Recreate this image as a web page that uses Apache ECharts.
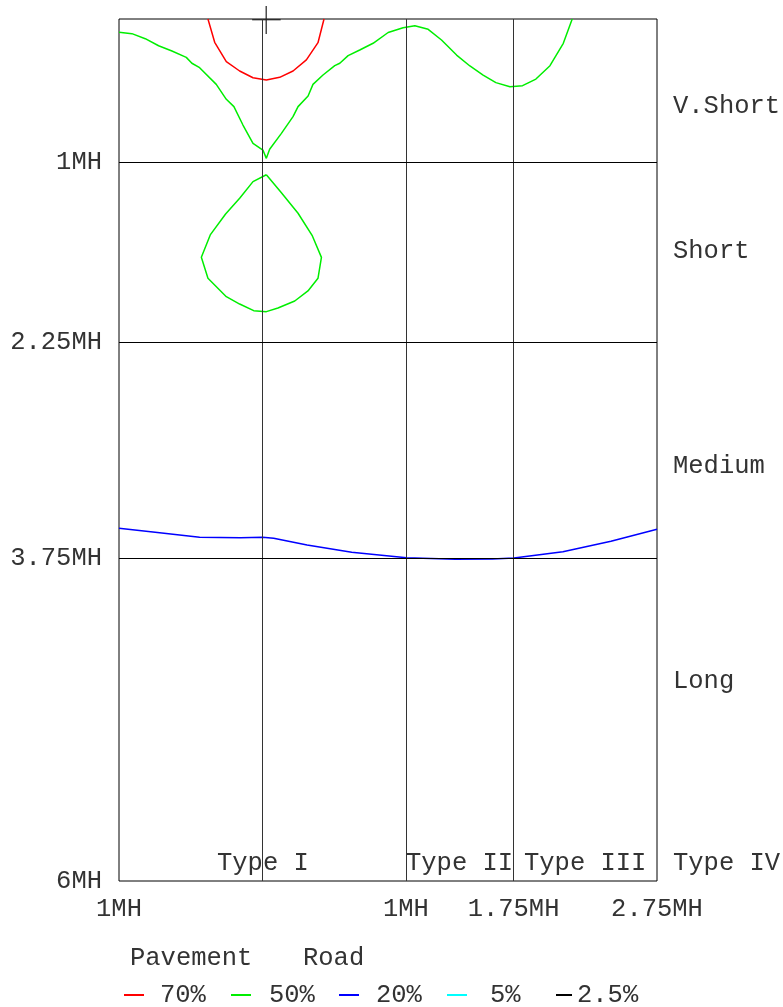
<!DOCTYPE html>
<html>
<head>
<meta charset="utf-8">
<style>
html,body{margin:0;padding:0;background:#fff;}
#chart{width:783px;height:1007px;}
</style>
<script src="https://cdn.jsdelivr.net/npm/echarts@6/dist/echarts.min.js"></script>
</head>
<body>
<div id="chart"></div>
<script>
// ---- data ----
const xTickValues = [-1, 1, 1.75, 2.75];
const xTickLabels = ['1MH', '1MH', '1.75MH', '2.75MH'];
const yTickValues = [1, 2.25, 3.75, 6];
const yTickLabels = ['1MH', '2.25MH', '3.75MH', '6MH'];
const xGridValues = [0, 1, 1.75];
const yGridValues = [1, 2.25, 3.75];

const seriesNames = ['70%', '50%', '20%', '5%', '2.5%'];
const seriesColors = ['#ff0000', '#00ee00', '#0000ff', '#00ffff', '#000000'];

const contour70 = [
  [-0.380, 0], [-0.333, 0.162], [-0.252, 0.297], [-0.159, 0.362], [-0.066, 0.409],
  [0.027, 0.425], [0.120, 0.406], [0.213, 0.362], [0.306, 0.285], [0.387, 0.165], [0.429, 0]
];
const contour50Upper = [
  [-1, 0.093], [-0.910, 0.102], [-0.817, 0.137], [-0.724, 0.186], [-0.631, 0.223],
  [-0.531, 0.267], [-0.492, 0.308], [-0.438, 0.339], [-0.322, 0.455], [-0.252, 0.559],
  [-0.199, 0.610], [-0.136, 0.738], [-0.066, 0.865], [0.003, 0.912], [0.027, 0.970],
  [0.050, 0.907], [0.132, 0.796], [0.213, 0.680], [0.248, 0.610], [0.318, 0.536],
  [0.352, 0.455], [0.422, 0.390], [0.504, 0.325], [0.539, 0.308], [0.597, 0.255],
  [0.678, 0.216], [0.771, 0.169], [0.876, 0.094], [0.980, 0.061], [1.062, 0.047],
  [1.155, 0.072], [1.248, 0.146], [1.353, 0.251], [1.446, 0.327], [1.538, 0.390],
  [1.627, 0.443], [1.725, 0.471], [1.813, 0.464], [1.906, 0.418], [2.004, 0.325],
  [2.097, 0.169], [2.159, 0]
];
const contour50Loop = [
  [0.027, 1.084], [-0.066, 1.132], [-0.159, 1.248], [-0.257, 1.357], [-0.364, 1.503],
  [-0.426, 1.659], [-0.380, 1.805], [-0.252, 1.933], [-0.159, 1.984], [-0.061, 2.030],
  [0.027, 2.037], [0.108, 2.012], [0.225, 1.963], [0.317, 1.893], [0.387, 1.805],
  [0.411, 1.659], [0.348, 1.510], [0.248, 1.352], [0.132, 1.209], [0.027, 1.084]
];
const contour20 = [
  [-1, 3.545], [-0.748, 3.573], [-0.438, 3.608], [-0.154, 3.610], [0.001, 3.608],
  [0.078, 3.615], [0.311, 3.661], [0.622, 3.712], [1.004, 3.750], [1.345, 3.761],
  [1.603, 3.759], [1.753, 3.752], [2.094, 3.708], [2.429, 3.635], [2.75, 3.552]
];
const contour5 = [];
const contour2_5 = [];

const luminaireV = [[0.026, -0.09], [0.026, 0.104]];
const luminaireH = [[-0.072, 0.005], [0.127, 0.005]];

const rowLabels = ['V.Short', 'Short', 'Medium', 'Long', 'Type IV'];
const typeLabels = ['Type I', 'Type II', 'Type III'];
const headerLabels = ['Pavement', 'Road'];

// ---- chart ----
const FONT = "'Liberation Mono', 'Courier New', monospace";
const FS = 25.5;
const TXT = '#333';

const chart = echarts.init(document.getElementById('chart'), null, {renderer: 'canvas'});

function lineSeries(name, data, color, extra) {
  return Object.assign({
    name: name, type: 'line', data: data, showSymbol: false, symbol: 'none',
    smooth: false, animation: false, silent: true,
    lineStyle: {color: color, width: 1.5}, itemStyle: {color: color}, z: 3
  }, extra || {});
}

const rowPos = [[673, 106], [673, 251], [673, 466], [673, 681], [673, 863]];
const typePos = [[217, 863], [406, 863], [524, 863]];
const headerPos = [[130, 958], [303, 958]];

const graphics = [];
rowLabels.forEach((t, i) => graphics.push({type: 'text', x: rowPos[i][0], y: rowPos[i][1],
  style: {text: t, fontFamily: FONT, fontSize: FS, fill: TXT, verticalAlign: 'middle', align: 'left'}}));
typeLabels.forEach((t, i) => graphics.push({type: 'text', x: typePos[i][0], y: typePos[i][1],
  style: {text: t, fontFamily: FONT, fontSize: FS, fill: TXT, verticalAlign: 'middle', align: 'left'}}));
headerLabels.forEach((t, i) => graphics.push({type: 'text', x: headerPos[i][0], y: headerPos[i][1],
  style: {text: t, fontFamily: FONT, fontSize: FS, fill: TXT, verticalAlign: 'middle', align: 'left'}}));

const legendLeft = [124, 231, 339, 447, 556];
const legendIconW = [20, 20, 20, 20, 16];
const legendPad = [11, 13, 12, 18, 0];
const legends = seriesNames.map((n, i) => ({
  left: legendLeft[i], top: 982, padding: 0, data: [n], icon: 'rect',
  itemWidth: legendIconW[i], itemHeight: 2, selectedMode: false,
  formatter: '{a|{name}}',
  textStyle: {fontFamily: FONT, fontSize: FS, color: TXT,
    rich: {a: {fontFamily: FONT, fontSize: FS, color: TXT, padding: [0, 0, 0, legendPad[i]]}}}
}));

const option = {
  animation: false,
  backgroundColor: '#fff',
  grid: {left: 119, right: 126, top: 19, bottom: 126, show: true, borderColor: '#000', borderWidth: 1, containLabel: false},
  xAxis: {
    type: 'value', min: -1, max: 2.75,
    axisLine: {show: false}, axisTick: {show: false}, splitLine: {show: false},
    axisLabel: {
      customValues: xTickValues, margin: 15,
      fontFamily: FONT, fontSize: FS, color: TXT,
      formatter: v => { const i = xTickValues.findIndex(t => Math.abs(t - v) < 1e-6); return i >= 0 ? xTickLabels[i] : ''; }
    }
  },
  yAxis: {
    type: 'value', min: 0, max: 6, inverse: true,
    axisLine: {show: false}, axisTick: {show: false}, splitLine: {show: false},
    axisLabel: {
      customValues: yTickValues, margin: 17,
      fontFamily: FONT, fontSize: FS, color: TXT,
      formatter: v => { const i = yTickValues.findIndex(t => Math.abs(t - v) < 1e-6); return i >= 0 ? yTickLabels[i] : ''; }
    }
  },
  legend: legends,
  graphic: graphics,
  series: [
    {
      name: 'gridlines', type: 'line', data: [[-1, 0]], symbol: 'none', silent: true,
      lineStyle: {opacity: 0}, z: 1,
      markLine: {
        silent: true, symbol: ['none', 'none'], label: {show: false}, animation: false,
        data: xGridValues.map(v => ({xAxis: v, lineStyle: {color: '#333', width: 1, type: 'solid'}}))
          .concat(yGridValues.map(v => ({yAxis: v, lineStyle: {color: '#000', width: 1, type: 'solid'}})))
      }
    },
    lineSeries(seriesNames[0], contour70, seriesColors[0]),
    lineSeries(seriesNames[1], contour50Upper, seriesColors[1]),
    lineSeries(seriesNames[1], contour50Loop, seriesColors[1]),
    lineSeries(seriesNames[2], contour20, seriesColors[2]),
    lineSeries(seriesNames[3], contour5, seriesColors[3]),
    lineSeries(seriesNames[4], contour2_5, seriesColors[4]),
    lineSeries('luminaireV', luminaireV, '#222', {clip: false, lineStyle: {color: '#222', width: 1.2}}),
    lineSeries('luminaireH', luminaireH, '#222', {clip: false, lineStyle: {color: '#222', width: 1.2}})
  ]
};
chart.setOption(option);
</script>
</body>
</html>
